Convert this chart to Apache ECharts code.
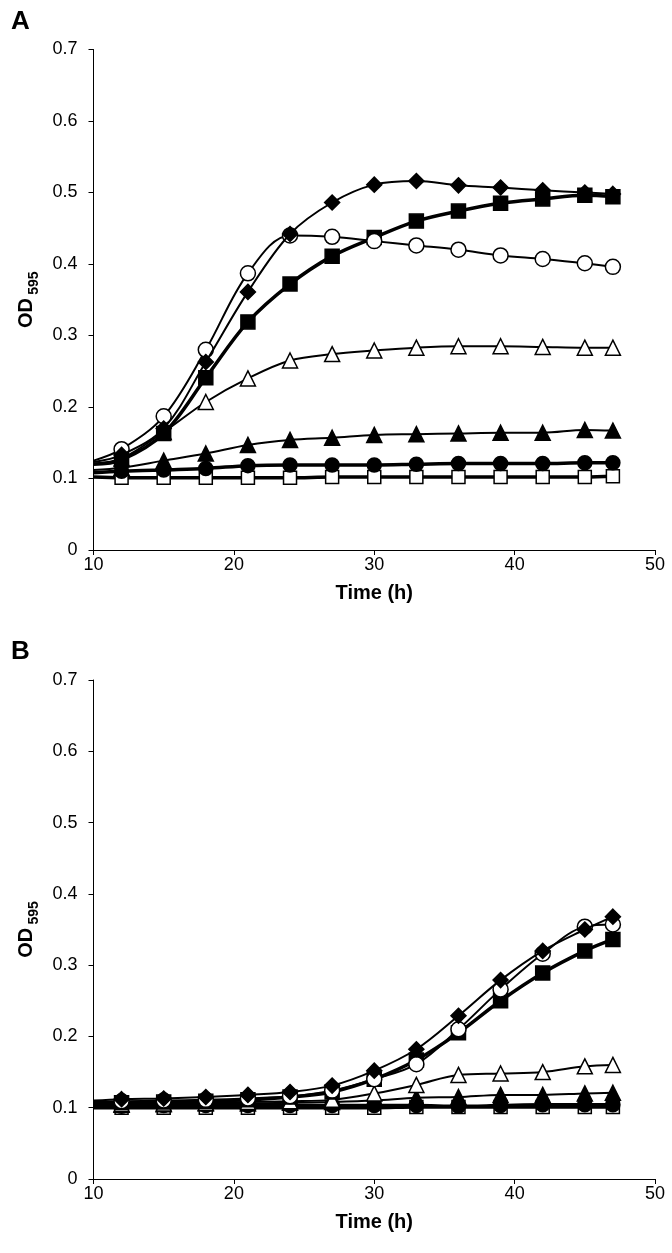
<!DOCTYPE html>
<html>
<head>
<meta charset="utf-8">
<script src="https://cdn.jsdelivr.net/npm/echarts@6/dist/echarts.min.js"></script>
<style>
html,body{margin:0;padding:0;background:#fff;}
#chart{width:672px;height:1253px;}
</style>
</head>
<body>
<div id="chart"></div>
<script>
// Time points (h); the first point (10 h) is where the curves start at the axis, drawn without marker
const times = [10, 12, 15, 18, 21, 24, 27, 30, 33, 36, 39, 42, 45, 47];
const xTicks = [10, 20, 30, 40, 50];
const yTicks = [0, 0.1, 0.2, 0.3, 0.4, 0.5, 0.6, 0.7];

// Panel A
const diamondA  = [0.123, 0.133, 0.170, 0.263, 0.361, 0.442, 0.486, 0.511, 0.516, 0.510, 0.507, 0.503, 0.500, 0.498];
const squareA   = [0.120, 0.126, 0.163, 0.241, 0.319, 0.372, 0.411, 0.437, 0.460, 0.474, 0.485, 0.491, 0.496, 0.494];
const circleA   = [0.125, 0.141, 0.187, 0.280, 0.387, 0.440, 0.438, 0.432, 0.426, 0.420, 0.412, 0.407, 0.401, 0.396];
const openTriA  = [0.121, 0.128, 0.165, 0.207, 0.240, 0.265, 0.274, 0.279, 0.283, 0.285, 0.285, 0.284, 0.283, 0.283];
const fillTriA  = [0.112, 0.115, 0.125, 0.135, 0.147, 0.154, 0.157, 0.161, 0.162, 0.163, 0.164, 0.164, 0.168, 0.167];
const fillCircA = [0.108, 0.110, 0.112, 0.114, 0.118, 0.119, 0.119, 0.119, 0.120, 0.121, 0.121, 0.121, 0.122, 0.122];
const openSqA   = [0.102, 0.101, 0.101, 0.101, 0.101, 0.101, 0.102, 0.102, 0.102, 0.102, 0.102, 0.102, 0.102, 0.103];

// Panel B
const diamondB  = [0.110, 0.112, 0.113, 0.115, 0.118, 0.122, 0.131, 0.152, 0.182, 0.229, 0.279, 0.320, 0.350, 0.368];
const circleB   = [0.108, 0.109, 0.110, 0.111, 0.113, 0.116, 0.124, 0.140, 0.161, 0.210, 0.266, 0.316, 0.354, 0.357];
const squareB   = [0.106, 0.107, 0.108, 0.109, 0.111, 0.115, 0.122, 0.140, 0.167, 0.205, 0.250, 0.289, 0.320, 0.336];
const openTriB  = [0.105, 0.105, 0.106, 0.107, 0.108, 0.109, 0.111, 0.120, 0.132, 0.146, 0.148, 0.150, 0.158, 0.160];
const fillTriB  = [0.104, 0.104, 0.105, 0.106, 0.106, 0.107, 0.108, 0.110, 0.114, 0.115, 0.118, 0.118, 0.120, 0.121];
const fillCircB = [0.102, 0.102, 0.103, 0.103, 0.103, 0.103, 0.103, 0.103, 0.103, 0.102, 0.103, 0.104, 0.104, 0.104];
const openSqB   = [0.100, 0.100, 0.100, 0.100, 0.100, 0.100, 0.100, 0.100, 0.101, 0.101, 0.101, 0.101, 0.101, 0.101];

const FONT = "'Liberation Sans', Arial, sans-serif";

function pts(vals) {
  return vals.map((v, i) => i === 0 ? { value: [times[i], v], symbol: 'none' } : [times[i], v]);
}

const styles = {
  openSq:  { symbol: 'rect',     size: 13, fill: '#fff', lw: 3.5 },
  fillCirc:{ symbol: 'circle',   size: 14, fill: '#000', lw: 3.5 },
  fillTri: { symbol: 'triangle', size: 15, fill: '#000', lw: 2 },
  openTri: { symbol: 'triangle', size: 15, fill: '#fff', lw: 2 },
  square:  { symbol: 'rect',     size: 14, fill: '#000', lw: 3.5 },
  circle:  { symbol: 'circle',   size: 15, fill: '#fff', lw: 2 },
  diamond: { symbol: 'diamond',  size: 15, fill: '#000', lw: 2 }
};

function mk(name, vals, st, idx, z) {
  const s = styles[st];
  return {
    name: name, type: 'line', xAxisIndex: idx, yAxisIndex: idx,
    data: pts(vals), smooth: 0.35, symbol: s.symbol, symbolSize: s.size,
    showAllSymbol: true, z: z,
    lineStyle: { color: '#000', width: s.lw },
    itemStyle: { color: s.fill, borderColor: '#000', borderWidth: 1.5 },
    emphasis: { disabled: true }, animation: false
  };
}

function seriesFor(idx, d) {
  return [
    mk('openSq' + idx, d[6], 'openSq', idx, 2),
    mk('fillCirc' + idx, d[5], 'fillCirc', idx, 3),
    mk('fillTri' + idx, d[4], 'fillTri', idx, 4),
    mk('openTri' + idx, d[3], 'openTri', idx, 5),
    mk('square' + idx, d[1], 'square', idx, 6),
    mk('circle' + idx, d[2], 'circle', idx, 7),
    mk('diamond' + idx, d[0], 'diamond', idx, 8)
  ];
}

function xAx(idx) {
  return {
    gridIndex: idx, type: 'value', min: xTicks[0], max: xTicks[xTicks.length - 1], interval: 10,
    axisLine: { onZero: false, lineStyle: { color: '#000', width: 1 } },
    axisTick: { show: true, inside: false, length: 5, lineStyle: { color: '#000' } },
    splitLine: { show: false },
    axisLabel: { color: '#000', fontSize: 18, fontFamily: FONT, margin: 6 },
    name: 'Time (h)', nameLocation: 'middle', nameGap: 33,
    nameTextStyle: { color: '#000', fontSize: 20, fontWeight: 'bold', fontFamily: FONT }
  };
}

function yAx(idx) {
  return {
    gridIndex: idx, type: 'value', min: yTicks[0], max: yTicks[yTicks.length - 1], interval: 0.1,
    axisLine: { show: true, lineStyle: { color: '#000', width: 1 } },
    axisTick: { show: true, inside: false, length: 5, lineStyle: { color: '#000' } },
    splitLine: { show: false },
    axisLabel: { color: '#000', fontSize: 18, fontFamily: FONT, margin: 16 },
    name: '{od|OD} {sub|595}', nameLocation: 'middle', nameGap: 54, nameRotate: 90,
    nameTextStyle: {
      color: '#000', fontFamily: FONT,
      rich: {
        od: { fontSize: 20, fontWeight: 'bold', fontFamily: FONT, color: '#000' },
        sub: { fontSize: 14, fontWeight: 'bold', fontFamily: FONT, color: '#000', verticalAlign: 'bottom', padding: [0, 0, -5, 0] }
      }
    }
  };
}

const chart = echarts.init(document.getElementById('chart'), null, { renderer: 'canvas' });
chart.setOption({
  backgroundColor: '#fff',
  animation: false,
  title: [
    { text: 'A', left: 6, top: 4, textStyle: { fontSize: 26, fontWeight: 'bold', fontFamily: FONT, color: '#000' } },
    { text: 'B', left: 6, top: 634, textStyle: { fontSize: 26, fontWeight: 'bold', fontFamily: FONT, color: '#000' } }
  ],
  grid: [
    { left: 93.5, right: 17, top: 49.5, height: 500.5 },
    { left: 93.5, right: 17, top: 680, height: 499 }
  ],
  xAxis: [xAx(0), xAx(1)],
  yAxis: [yAx(0), yAx(1)],
  series: [].concat(
    seriesFor(0, [diamondA, squareA, circleA, openTriA, fillTriA, fillCircA, openSqA]),
    seriesFor(1, [diamondB, squareB, circleB, openTriB, fillTriB, fillCircB, openSqB])
  )
});
</script>
</body>
</html>
